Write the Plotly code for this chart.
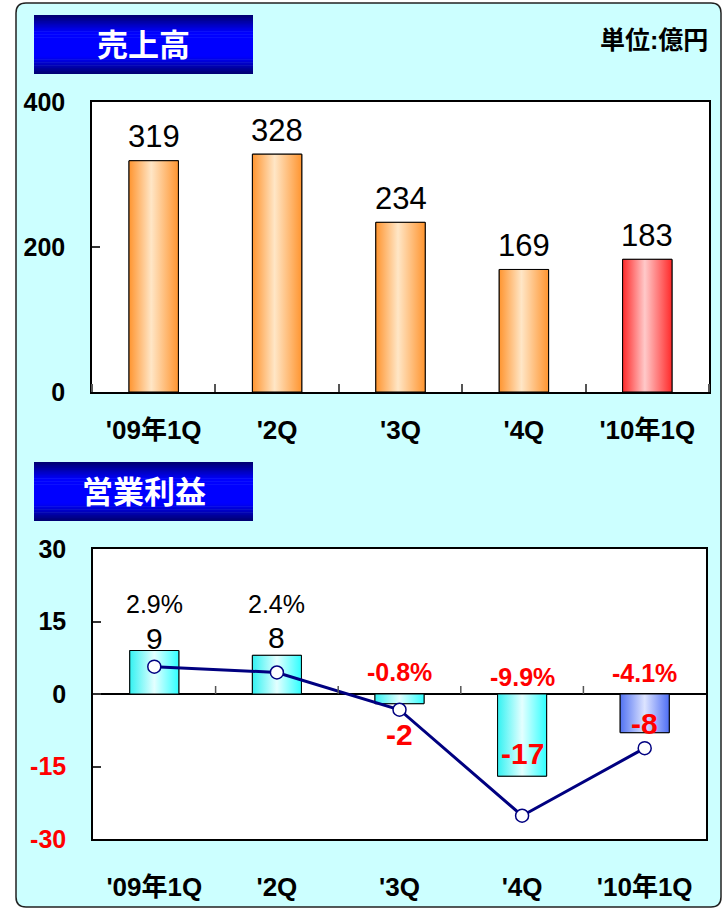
import plotly.graph_objects as go

# ---------------- data ----------------
categories = ["'09年1Q", "'2Q", "'3Q", "'4Q", "'10年1Q"]
sales = [319, 328, 234, 169, 183]
op_income = [9, 8, -2, -17, -8]
op_margin = [2.9, 2.4, -0.8, -9.9, -4.1]
op_margin_labels = ["2.9%", "2.4%", "-0.8%", "-9.9%", "-4.1%"]
sales_ticks = [0, 200, 400]
income_ticks = [30, 15, 0, -15, -30]

# ---------------- styles ----------------
W, H = 724, 909
FONT = "Liberation Sans, Arial, Noto Sans CJK JP, sans-serif"
ORANGE = [[0, "#FF9530"], [0.45, "#FFE6C6"], [1, "#FF9530"]]
RED = [[0, "#FF2A2A"], [0.45, "#FFC9C9"], [1, "#FF2A2A"]]
CYAN = [[0, "#33F2F2"], [0.5, "#E4FFFF"], [1, "#30FFFF"]]
BLUE = [[0, "#5272F2"], [0.5, "#DDE4FF"], [1, "#4E6EF5"]]
sales_scales = [ORANGE, ORANGE, ORANGE, ORANGE, RED]
income_scales = [CYAN, CYAN, CYAN, CYAN, BLUE]
BAR_W = 0.4
income_value_shift = [12, 18, -31, 23, 9]
income_pct_shift = [47, 51, 22, 17, 21]


def X(px):
    return px / W


def Y(py):
    return 1 - py / H


fig = go.Figure()
xs = list(range(len(categories)))

# ---- sales bars ----
fig.add_trace(go.Bar(x=xs, y=sales, width=BAR_W, xaxis="x", yaxis="y",
                     marker=dict(color="#FFC080", line=dict(color="black", width=1)),
                     hoverinfo="skip", showlegend=False))
for i, v in enumerate(sales):
    fig.add_trace(go.Scatter(
        x=[i - BAR_W / 2, i + BAR_W / 2, i + BAR_W / 2, i - BAR_W / 2, i - BAR_W / 2],
        y=[0, 0, v, v, 0], xaxis="x", yaxis="y", mode="lines", fill="toself",
        fillgradient=dict(type="horizontal", colorscale=sales_scales[i]),
        line=dict(color="black", width=1), hoverinfo="skip", showlegend=False))

# ---- operating income bars ----
fig.add_trace(go.Bar(x=xs, y=op_income, width=BAR_W, xaxis="x2", yaxis="y2",
                     marker=dict(color="#90FFFF", line=dict(color="black", width=1)),
                     hoverinfo="skip", showlegend=False))
for i, v in enumerate(op_income):
    fig.add_trace(go.Scatter(
        x=[i - BAR_W / 2, i + BAR_W / 2, i + BAR_W / 2, i - BAR_W / 2, i - BAR_W / 2],
        y=[0, 0, v, v, 0], xaxis="x2", yaxis="y2", mode="lines", fill="toself",
        fillgradient=dict(type="horizontal", colorscale=income_scales[i]),
        line=dict(color="black", width=1), hoverinfo="skip", showlegend=False))

# ---- margin line (secondary axis) ----
fig.add_trace(go.Scatter(x=xs, y=op_margin, xaxis="x2", yaxis="y3",
                         mode="lines+markers",
                         line=dict(color="#000080", width=3),
                         marker=dict(size=13, color="white",
                                     line=dict(color="#000080", width=1.5)),
                         hoverinfo="skip", showlegend=False))

# ---------------- shapes ----------------
shapes = []
x0, x1, yt, yb = X(16), X(721), Y(3), Y(907)
rx, ry = 10 / W, 10 / H
path = (f"M {x0+rx},{yt} L {x1-rx},{yt} Q {x1},{yt} {x1},{yt-ry} "
        f"L {x1},{yb+ry} Q {x1},{yb} {x1-rx},{yb} L {x0+rx},{yb} "
        f"Q {x0},{yb} {x0},{yb+ry} L {x0},{yt-ry} Q {x0},{yt} {x0+rx},{yt} Z")
shapes.append(dict(type="path", xref="paper", yref="paper", path=path,
                   fillcolor="#CCFFFF", line=dict(color="#222222", width=1.5),
                   layer="below"))

# title boxes with vertical gradient (stripes)
N = 40
for top in (15, 462):
    h = 59.0 / N
    for k in range(N):
        t = (k + 0.5) / N
        m = min(1.0, (1 - abs(2 * t - 1)) * 1.7)
        b = int(110 + (255 - 110) * m)
        y_lo = top + (k + 1) * h + (0.6 if k < N - 1 else 0)
        shapes.append(dict(type="rect", xref="paper", yref="paper",
                           x0=X(34), x1=X(253), y0=Y(top + k * h), y1=Y(y_lo),
                           fillcolor=f"rgb(0,0,{b})", line=dict(width=0), layer="below"))

# white plot backgrounds
for xr, yr in (("x", "y"), ("x2", "y2")):
    shapes.append(dict(type="rect", xref=f"{xr} domain", yref=f"{yr} domain",
                       x0=0, x1=1, y0=0, y1=1, fillcolor="white",
                       line=dict(width=0), layer="below"))

# category boundary ticks on the zero line of the lower chart
for i in range(len(categories) - 1):
    shapes.append(dict(type="line", xref="x2", yref="y2", ysizemode="pixel",
                       yanchor=0, x0=i + 0.5, x1=i + 0.5, y0=0, y1=8,
                       line=dict(color="#555555", width=1.5)))

# ---------------- annotations ----------------
ann = []
title_font = dict(family=FONT, size=31, color="white", weight="bold")
ann.append(dict(text="売上高", x=X(143.5), y=Y(45), xref="paper", yref="paper",
                xanchor="center", yanchor="middle", showarrow=False, font=title_font))
ann.append(dict(text="営業利益", x=X(143.5), y=Y(492), xref="paper", yref="paper",
                xanchor="center", yanchor="middle", showarrow=False, font=title_font))
ann.append(dict(text="単位:億円", x=X(710), y=Y(40), xref="paper", yref="paper",
                xanchor="right", yanchor="middle", showarrow=False,
                font=dict(family=FONT, size=25, color="black", weight="bold")))

for i, v in enumerate(sales):
    ann.append(dict(text=str(v), x=i, y=v, xref="x", yref="y",
                    xanchor="center", yanchor="middle",
                    yshift=24, showarrow=False,
                    font=dict(family=FONT, size=31, color="black")))

for i, v in enumerate(op_income):
    neg = v < 0
    col = "#FF0000" if neg else "black"
    wt = "bold" if neg else "normal"
    ann.append(dict(text=str(v), x=i, y=v, xref="x2", yref="y2",
                    xanchor="center", yanchor="middle",
                    yshift=income_value_shift[i], showarrow=False,
                    font=dict(family=FONT, size=30, color=col, weight=wt)))
    ann.append(dict(text=op_margin_labels[i], x=i, y=max(v, 0), xref="x2", yref="y2",
                    xanchor="center", yanchor="middle",
                    yshift=income_pct_shift[i], showarrow=False,
                    font=dict(family=FONT, size=25, color=col, weight=wt)))

income_ticktext = [str(t) if t >= 0 else f'<span style="color:#FF0000">{t}</span>'
                   for t in income_ticks]

axis_common = dict(showline=True, mirror=True, linecolor="black", linewidth=1.5,
                   showgrid=False, zeroline=False, automargin=False)
xtick_font = dict(family=FONT, size=26, weight="bold")
ytick_font = dict(family=FONT, size=25, weight="bold")

fig.update_layout(
    width=W, height=H,
    margin=dict(l=0, r=0, t=0, b=0, autoexpand=False),
    paper_bgcolor="white", plot_bgcolor="white",
    font=dict(family=FONT, color="black"),
    showlegend=False,
    shapes=shapes, annotations=ann,
    xaxis=dict(domain=[X(92), X(709)], range=[-0.5, 4.5], anchor="y",
               tickvals=xs, ticktext=categories, ticks="",
               tickfont=xtick_font, ticklabelstandoff=14,
               minor=dict(tick0=0.5, dtick=1, ticks="inside", ticklen=8,
                          tickcolor="#555555", tickwidth=1.5, showgrid=False),
               **axis_common),
    yaxis=dict(domain=[Y(392), Y(102)], range=[0, 400], anchor="x",
               tickvals=sales_ticks, ticks="inside", ticklen=8, tickcolor="#333333",
               tickwidth=1.5, tickfont=ytick_font,
               ticklabelstandoff=20, **axis_common),
    xaxis2=dict(domain=[X(93), X(706)], range=[-0.5, 4.5], anchor="y2",
                tickvals=xs, ticktext=categories, ticks="",
                tickfont=xtick_font, ticklabelstandoff=24, **axis_common),
    yaxis2=dict(domain=[Y(839), Y(549)], range=[-30, 30], anchor="x2",
                tickvals=income_ticks, ticktext=income_ticktext,
                ticks="inside", ticklen=8, tickcolor="#333333", tickwidth=1.5,
                tickfont=ytick_font, ticklabelstandoff=20,
                zeroline=True, zerolinecolor="black", zerolinewidth=1.5,
                **{k: v for k, v in axis_common.items() if k != "zeroline"}),
    yaxis3=dict(overlaying="y2", anchor="x2", range=[-11.9, 13.0], visible=False,
                automargin=False),
)

# remove the browser's default 8px page margin so the figure fills the window
fig.write_html("out.html",
               config={"displayModeBar": False},
               post_script="document.body.style.margin='0px';document.body.style.overflow='hidden';")
